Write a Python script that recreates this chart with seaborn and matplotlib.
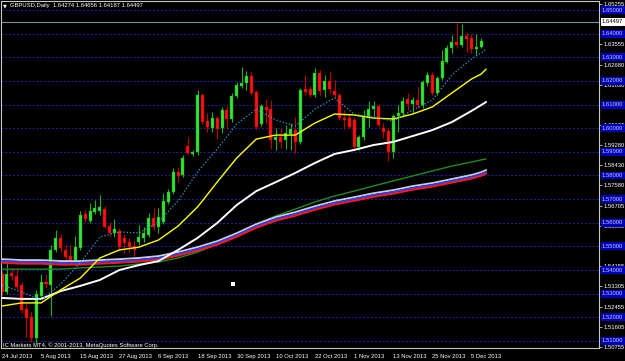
import numpy as np
import pandas as pd
import matplotlib
matplotlib.use("Agg")
import matplotlib.pyplot as plt
import seaborn as sns
from matplotlib.transforms import blended_transform_factory

# ---------------- data ----------------
date_labels = ["24 Jul 2013", "5 Aug 2013", "15 Aug 2013", "27 Aug 2013", "6 Sep 2013",
               "18 Sep 2013", "30 Sep 2013", "10 Oct 2013", "22 Oct 2013", "1 Nov 2013",
               "13 Nov 2013", "25 Nov 2013", "5 Dec 2013"]
date_label_bars = [0, 8, 16, 24, 32, 40, 48, 56, 64, 72, 80, 88, 96]

open_ = [1.5383, 1.5307, 1.5388, 1.5375, 1.5337, 1.5235, 1.5201, 1.5113, 1.5290, 1.5349,
         1.5337, 1.5485, 1.5536, 1.5485, 1.5459, 1.5443, 1.5493, 1.5637, 1.5607, 1.5646,
         1.5650, 1.5658, 1.5586, 1.5557, 1.5565, 1.5536, 1.5519, 1.5502, 1.5519, 1.5536,
         1.5548, 1.5620, 1.5582, 1.5603, 1.5688, 1.5730, 1.5815, 1.5802, 1.5925, 1.5891,
         1.5899, 1.6140, 1.6030, 1.6001, 1.6043, 1.6001, 1.6077, 1.6039, 1.6136, 1.6179,
         1.6191, 1.6221, 1.6153, 1.6018, 1.6090, 1.6081, 1.5950, 1.5963, 1.5950, 1.5975,
         1.5992, 1.5942, 1.6166, 1.6166, 1.6140, 1.6234, 1.6162, 1.6200, 1.6157, 1.6140,
         1.6043, 1.6043, 1.6035, 1.5920, 1.5963, 1.6043, 1.6081, 1.6094, 1.6001, 1.5988,
         1.5899, 1.6052, 1.6064, 1.6124, 1.6102, 1.6119, 1.6098, 1.6191, 1.6225, 1.6149,
         1.6212, 1.6280, 1.6339, 1.6365, 1.6352, 1.6390, 1.6382, 1.6335, 1.6344]
high = [1.5396, 1.5434, 1.5409, 1.5409, 1.5349, 1.5256, 1.5223, 1.5316, 1.5383, 1.5383,
        1.5506, 1.5569, 1.5552, 1.5506, 1.5506, 1.5544, 1.5650, 1.5654, 1.5684, 1.5696,
        1.5717, 1.5671, 1.5603, 1.5616, 1.5578, 1.5552, 1.5536, 1.5527, 1.5591, 1.5582,
        1.5641, 1.5662, 1.5662, 1.5726, 1.5743, 1.5832, 1.5836, 1.5887, 1.5963, 1.5908,
        1.6162, 1.6149, 1.6064, 1.6069, 1.6052, 1.6090, 1.6094, 1.6149, 1.6195, 1.6259,
        1.6242, 1.6238, 1.6162, 1.6102, 1.6124, 1.6119, 1.6001, 1.6001, 1.6014, 1.6022,
        1.6047, 1.6170, 1.6225, 1.6179, 1.6255, 1.6246, 1.6225, 1.6242, 1.6204, 1.6149,
        1.6077, 1.6060, 1.6047, 1.5971, 1.6077, 1.6115, 1.6115, 1.6102, 1.6022, 1.6001,
        1.6060, 1.6098, 1.6132, 1.6149, 1.6132, 1.6174, 1.6204, 1.6238, 1.6238, 1.6221,
        1.6331, 1.6352, 1.6394, 1.6445, 1.6441, 1.6403, 1.6398, 1.6398, 1.6382]
low = [1.5294, 1.5299, 1.5358, 1.5320, 1.5218, 1.5117, 1.5096, 1.5091, 1.5282, 1.5324,
       1.5206, 1.5476, 1.5476, 1.5443, 1.5430, 1.5421, 1.5485, 1.5603, 1.5599, 1.5637,
       1.5633, 1.5578, 1.5544, 1.5540, 1.5485, 1.5472, 1.5476, 1.5455, 1.5506, 1.5519,
       1.5540, 1.5569, 1.5557, 1.5595, 1.5679, 1.5722, 1.5772, 1.5794, 1.5887, 1.5882,
       1.5887, 1.6018, 1.5984, 1.5984, 1.5954, 1.5980, 1.5997, 1.6026, 1.6128, 1.6170,
       1.6162, 1.6140, 1.5997, 1.6009, 1.6018, 1.5912, 1.5908, 1.5916, 1.5912, 1.5908,
       1.5895, 1.5933, 1.6140, 1.6132, 1.6132, 1.6140, 1.6132, 1.6149, 1.6128, 1.6035,
       1.5997, 1.6001, 1.5908, 1.5908, 1.5950, 1.6005, 1.6043, 1.6005, 1.5959, 1.5861,
       1.5874, 1.5984, 1.6047, 1.6077, 1.6064, 1.6085, 1.6085, 1.6179, 1.6140, 1.6140,
       1.6204, 1.6276, 1.6318, 1.6339, 1.6344, 1.6322, 1.6318, 1.6310, 1.6339]
close = [1.5307, 1.5383, 1.5375, 1.5328, 1.5231, 1.5197, 1.5113, 1.5299, 1.5349, 1.5341,
         1.5485, 1.5536, 1.5493, 1.5455, 1.5443, 1.5497, 1.5633, 1.5616, 1.5650, 1.5662,
         1.5667, 1.5582, 1.5557, 1.5574, 1.5497, 1.5514, 1.5497, 1.5485, 1.5540, 1.5557,
         1.5620, 1.5582, 1.5624, 1.5692, 1.5730, 1.5815, 1.5798, 1.5874, 1.5895, 1.5899,
         1.6140, 1.6026, 1.6005, 1.6043, 1.5997, 1.6077, 1.6039, 1.6136, 1.6183, 1.6191,
         1.6221, 1.6149, 1.6005, 1.6094, 1.6077, 1.5950, 1.5963, 1.5942, 1.5980, 1.5997,
         1.5942, 1.6162, 1.6153, 1.6140, 1.6234, 1.6157, 1.6200, 1.6166, 1.6140, 1.6043,
         1.6035, 1.6005, 1.5920, 1.5963, 1.6047, 1.6081, 1.6094, 1.6014, 1.5984, 1.5899,
         1.6052, 1.6064, 1.6115, 1.6102, 1.6119, 1.6098, 1.6195, 1.6225, 1.6149, 1.6212,
         1.6284, 1.6339, 1.6365, 1.6352, 1.6390, 1.6377, 1.6335, 1.6344, 1.6369]

# moving averages, read at these bar positions
ma_bars = [0, 4, 8, 12, 16, 20, 24, 28, 32, 36, 40, 44, 48, 52, 56, 60, 64, 68, 72, 76,
           80, 84, 88, 92, 96, 98, 99]
ma_fast = [1.5337, 1.5307, 1.5273, 1.5341, 1.5430, 1.5540, 1.5561, 1.5557, 1.5603, 1.5692,
           1.5815, 1.5912, 1.6018, 1.6081, 1.6035, 1.6009, 1.6081, 1.6128, 1.6060, 1.6047,
           1.6030, 1.6077, 1.6119, 1.6225, 1.6293, 1.6318, 1.6335]
ma_yellow = [1.5248, 1.5261, 1.5261, 1.5316, 1.5366, 1.5451, 1.5485, 1.5497, 1.5527, 1.5586,
             1.5667, 1.5772, 1.5874, 1.5954, 1.5971, 1.5971, 1.6022, 1.6060, 1.6056, 1.6043,
             1.6039, 1.6060, 1.6090, 1.6149, 1.6208, 1.6229, 1.6250]
ma_white = [1.5282, 1.5278, 1.5278, 1.5311, 1.5333, 1.5358, 1.5400, 1.5421, 1.5438, 1.5485,
            1.5536, 1.5599, 1.5675, 1.5734, 1.5772, 1.5811, 1.5853, 1.5891, 1.5908, 1.5929,
            1.5942, 1.5967, 1.5992, 1.6026, 1.6073, 1.6098, 1.6111]
ma_silver = [1.5446, 1.5442, 1.5442, 1.5438, 1.5438, 1.5442, 1.5446, 1.5451, 1.5459, 1.5476,
             1.5497, 1.5522, 1.5556, 1.5594, 1.5624, 1.5645, 1.5670, 1.5692, 1.5708, 1.5725,
             1.5738, 1.5755, 1.5768, 1.5785, 1.5802, 1.5814, 1.5823]
ma_blue = [1.5438, 1.5434, 1.5434, 1.5430, 1.5430, 1.5434, 1.5438, 1.5443, 1.5451, 1.5468,
           1.5489, 1.5514, 1.5548, 1.5586, 1.5616, 1.5637, 1.5662, 1.5684, 1.5700, 1.5717,
           1.5730, 1.5747, 1.5760, 1.5777, 1.5794, 1.5806, 1.5815]
ma_red = [1.5431, 1.5427, 1.5427, 1.5423, 1.5423, 1.5427, 1.5431, 1.5436, 1.5444, 1.5461,
          1.5482, 1.5507, 1.5541, 1.5579, 1.5609, 1.5630, 1.5655, 1.5677, 1.5693, 1.5710,
          1.5723, 1.5740, 1.5753, 1.5770, 1.5787, 1.5799, 1.5808]
ma_green = [1.5404, 1.5404, 1.5404, 1.5404, 1.5409, 1.5413, 1.5417, 1.5426, 1.5434, 1.5451,
            1.5476, 1.5510, 1.5552, 1.5595, 1.5629, 1.5658, 1.5688, 1.5713, 1.5734, 1.5756,
            1.5777, 1.5798, 1.5819, 1.5840, 1.5857, 1.5866, 1.5870]

price_levels = [1.65, 1.64, 1.63, 1.62, 1.61, 1.60, 1.59, 1.58, 1.57, 1.56, 1.55, 1.54,
                1.53, 1.52, 1.51]
axis_prices = [1.65255, 1.63555, 1.62680, 1.61830, 1.60130, 1.59280, 1.58430, 1.57580,
               1.56705, 1.55855, 1.54155, 1.53305, 1.52455, 1.51605, 1.50755]
current_price = 1.64497
title_text = "GBPUSD,Daily  1.64274 1.64656 1.64187 1.64497"
footer_text = "IC Markets MT4, \u00a9 2001-2013, MetaQuotes Software Corp."
object_bar = [47.2]
object_price = [1.5341]

# ---------------- style ----------------
sns.set_style("dark", rc={"axes.facecolor": "black", "figure.facecolor": "black"})
plt.rcParams["font.family"] = ["Liberation Sans", "DejaVu Sans"]
FS = 4.2

fig = plt.figure(figsize=(6.25, 3.61), dpi=100)
fig.patch.set_facecolor("black")
ax = fig.add_axes([1 / 625, 13 / 361, 598 / 625, 347 / 361])
ax.set_facecolor("black")
ax.set_xlim(-0.2045, 122.09)
ax.set_ylim(1.50703, 1.65381)
ax.grid(False)
for s in ax.spines.values():
    s.set_color("#c8c8c8")
    s.set_linewidth(0.8)

# horizontal level lines
for lvl in price_levels:
    ax.axhline(lvl, color="#1f1fb0", lw=0.7, ls=(0, (2, 2)), zorder=1)
ax.axhline(current_price, color="#8090a4", lw=0.8, zorder=1)

# candles
df = pd.DataFrame({"bar": np.arange(len(open_)), "open": open_, "high": high,
                   "low": low, "close": close})
up = df["close"] >= df["open"]
wick_cols = np.where(up, "#20b020", "#c00000")
body_cols = np.where(up, "#33e633", "#ff1010")
edge_cols = np.where(up, "#169a16", "#c00000")
ax.vlines(df["bar"], df["low"], df["high"], colors=wick_cols, lw=0.8, zorder=2)
bottoms = df[["open", "close"]].min(axis=1)
heights = (df["close"] - df["open"]).abs().clip(lower=0.00012)
ax.bar(df["bar"], heights, bottom=bottoms, width=0.62, color=body_cols,
       edgecolor=edge_cols, linewidth=0.3, zorder=2)

# moving averages
ma = pd.DataFrame({"bar": ma_bars, "fast": ma_fast, "yellow": ma_yellow,
                   "white": ma_white, "silver": ma_silver, "blue": ma_blue,
                   "red": ma_red, "green": ma_green})
sns.lineplot(data=ma, x="bar", y="green", ax=ax, color="#1e8c1e", lw=1.0, zorder=3,
             estimator=None, legend=False)
sns.lineplot(data=ma, x="bar", y="silver", ax=ax, color="#c4ccd4", lw=1.4, zorder=3,
             estimator=None, legend=False)
sns.lineplot(data=ma, x="bar", y="blue", ax=ax, color="#2a3cff", lw=1.4, zorder=3,
             estimator=None, legend=False)
sns.lineplot(data=ma, x="bar", y="red", ax=ax, color="#ff1a1a", lw=1.4, zorder=3,
             estimator=None, legend=False)
sns.lineplot(data=ma, x="bar", y="white", ax=ax, color="white", lw=1.4, zorder=3,
             estimator=None, legend=False)
sns.lineplot(data=ma, x="bar", y="yellow", ax=ax, color="#ffff00", lw=1.0, zorder=3,
             estimator=None, legend=False)
sns.lineplot(data=ma, x="bar", y="fast", ax=ax, color="#2aa0d8", lw=0.9, zorder=3,
             estimator=None, legend=False, linestyle=(0, (1, 1.6)))

sns.scatterplot(x=object_bar, y=object_price, ax=ax, marker="s", s=7, color="white",
                edgecolor="none", zorder=4, legend=False)
ax.set_xlabel("")
ax.set_ylabel("")

# x axis
ax.set_xticks(date_label_bars)
ax.set_xticklabels(date_labels, ha="left")
ax.tick_params(axis="x", direction="out", length=3, width=0.6, color="#c8c8c8",
               labelsize=FS, labelcolor="white", pad=1)

# y axis (right)
ax.yaxis.tick_right()
ax.set_yticks(axis_prices)
ax.set_yticklabels([f"{v:.5f}" for v in axis_prices])
ax.tick_params(axis="y", direction="out", length=2.2, width=0.6, color="#c8c8c8",
               labelsize=FS, labelcolor="white", pad=1)

trans = blended_transform_factory(ax.transAxes, ax.transData)
for lvl in price_levels:
    ax.text(1.0 + 3.0 / 598, lvl, f"{lvl:.5f}", transform=trans, ha="left", va="center",
            fontsize=FS, color="#c8c8ff", zorder=6, clip_on=False,
            bbox=dict(boxstyle="square,pad=0.25", fc="#0000b8", ec="none"))
ax.text(1.0 + 3.0 / 598, current_price, f"{current_price:.5f}", transform=trans,
        ha="left", va="center", fontsize=FS, color="black", zorder=7, clip_on=False,
        bbox=dict(boxstyle="square,pad=0.25", fc="white", ec="none"))

# texts
fig.text(3 / 625, 1 - 6 / 361, "\u25bc", fontsize=3.6, color="white", ha="left",
         va="center", family=["DejaVu Sans"])
fig.text(10 / 625, 1 - 6 / 361, title_text, fontsize=FS, color="white", ha="left",
         va="center")
fig.text(3 / 625, 1 - 345 / 361, footer_text, fontsize=FS, color="white", ha="left",
         va="center")

fig.savefig("out.png", dpi=100, facecolor="black")
